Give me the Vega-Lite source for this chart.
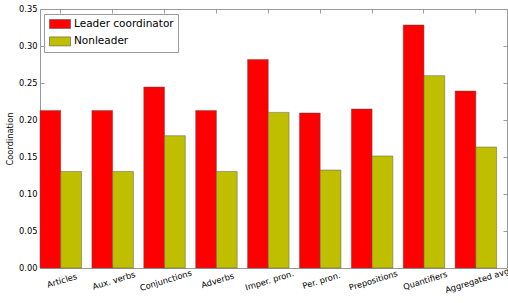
{
  "$schema": "https://vega.github.io/schema/vega-lite/v6.json",
  "width": 467,
  "height": 259,
  "autosize": "none",
  "padding": {"left": 40, "top": 9, "right": 1, "bottom": 35},
  "config": {
    "font": "DejaVu Sans",
    "view": {"stroke": "#999", "strokeWidth": 1},
    "axis": {"grid": false, "domain": false, "labelFont": "DejaVu Sans", "labelFontSize": 8.3, "labelColor": "#000", "tickColor": "#999", "tickSize": -4, "titleFont": "DejaVu Sans", "titleFontSize": 8.3, "titleFontWeight": "normal", "titleColor": "#000"}
  },
  "data": {"values": [
    {"category": "Articles", "series": "Leader coordinator", "value": 0.213},
    {"category": "Articles", "series": "Nonleader", "value": 0.1305},
    {"category": "Aux. verbs", "series": "Leader coordinator", "value": 0.213},
    {"category": "Aux. verbs", "series": "Nonleader", "value": 0.1305},
    {"category": "Conjunctions", "series": "Leader coordinator", "value": 0.2446},
    {"category": "Conjunctions", "series": "Nonleader", "value": 0.1788},
    {"category": "Adverbs", "series": "Leader coordinator", "value": 0.213},
    {"category": "Adverbs", "series": "Nonleader", "value": 0.1305},
    {"category": "Imper. pron.", "series": "Leader coordinator", "value": 0.2819},
    {"category": "Imper. pron.", "series": "Nonleader", "value": 0.2103},
    {"category": "Per. pron.", "series": "Leader coordinator", "value": 0.2095},
    {"category": "Per. pron.", "series": "Nonleader", "value": 0.1324},
    {"category": "Prepositions", "series": "Leader coordinator", "value": 0.2149},
    {"category": "Prepositions", "series": "Nonleader", "value": 0.1514},
    {"category": "Quantifiers", "series": "Leader coordinator", "value": 0.3284},
    {"category": "Quantifiers", "series": "Nonleader", "value": 0.2599},
    {"category": "Aggregated avg", "series": "Leader coordinator", "value": 0.2392},
    {"category": "Aggregated avg", "series": "Nonleader", "value": 0.1635}
  ]},
  "layer": [
    {
      "mark": {"type": "bar", "stroke": "#555", "strokeWidth": 0.6, "strokeOpacity": 0.8},
      "encoding": {
        "x": {"field": "category", "type": "nominal", "sort": null, "title": null,
              "scale": {"paddingInner": 0.2, "paddingOuter": 0.1, "align": 0},
              "axis": {"labelAngle": -17, "labelPadding": 12, "labelAlign": "center", "labelBaseline": "top", "orient": "bottom"}},
        "xOffset": {"field": "series", "type": "nominal", "sort": ["Leader coordinator", "Nonleader"], "scale": {"paddingInner": 0, "paddingOuter": 0}},
        "y": {"field": "value", "type": "quantitative", "title": "Coordination",
              "scale": {"domain": [0, 0.35], "nice": false},
              "axis": {"values": [0, 0.05, 0.1, 0.15, 0.2, 0.25, 0.3, 0.35], "format": ".2f", "labelPadding": 7, "titlePadding": 4, "orient": "left"}},
        "color": {"field": "series", "type": "nominal",
                  "scale": {"domain": ["Leader coordinator", "Nonleader"], "range": ["#ff0000", "#bfbf00"]},
                  "legend": {"title": null, "orient": "none", "legendX": 4, "legendY": 5,
                             "symbolType": "M-1.909,-0.818H1.909V0.818H-1.909Z", "symbolSize": 121,
                             "symbolOffset": 6,
                             "symbolStrokeColor": "#555", "symbolStrokeWidth": 0.6,
                             "labelFont": "DejaVu Sans", "labelFontSize": 10.5, "labelColor": "#000",
                             "labelOffset": 8, "rowPadding": 5.4, "padding": 4,
                             "strokeColor": "#999", "fillColor": "#fff"}}
      }
    },
    {
      "mark": {"type": "bar", "opacity": 0},
      "encoding": {
        "x": {"field": "category", "type": "nominal", "sort": null,
              "axis": {"orient": "top", "labels": false, "title": null}},
        "xOffset": {"field": "series", "type": "nominal", "sort": ["Leader coordinator", "Nonleader"]},
        "y": {"field": "value", "type": "quantitative",
              "axis": {"orient": "right", "labels": false, "title": null, "values": [0, 0.05, 0.1, 0.15, 0.2, 0.25, 0.3, 0.35]}}
      }
    }
  ],
  "resolve": {"axis": {"x": "independent", "y": "independent"}}
}
